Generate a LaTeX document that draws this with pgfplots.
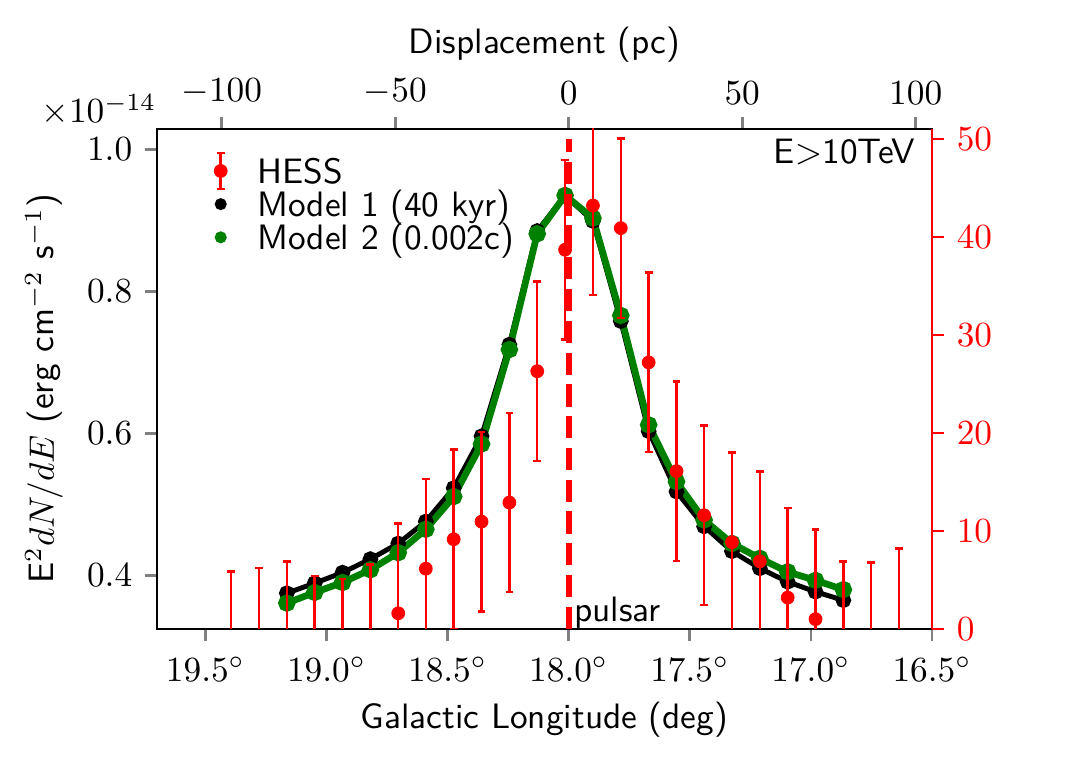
\documentclass[border=0pt]{standalone}
\usepackage{pgfplots}
\pgfplotsset{compat=1.18}
\definecolor{mplgreen}{rgb}{0,0.5,0}

\pgfplotsset{
  common/.style={
    scale only axis, width=219.55pt, height=141.64pt,
    major tick length=3.5pt,
    tick style={line width=0.8pt},
    axis line style={line width=0.8pt},
  },
}

\begin{document}
\begin{tikzpicture}
% models (left axis, units of 1e-14 erg cm^-2 s^-1)
\begin{axis}[common, name=main, tick align=outside,
  x dir=reverse, xmin=16.5, xmax=19.7,
  ymin=0.3246, ymax=1.0286,
  xtick={16.5,17,17.5,18,18.5,19,19.5},
  xticklabels={$16.5^\circ$,$17.0^\circ$,$17.5^\circ$,$18.0^\circ$,$18.5^\circ$,$19.0^\circ$,$19.5^\circ$},
  xticklabel style={yshift=-1pt},
  ytick={0.4,0.6,0.8,1.0},
  yticklabels={$0.4$,$0.6$,$0.8$,$1.0$},
  xtick pos=bottom, ytick pos=left,
  xlabel={\sffamily Galactic Longitude (deg)},
  ylabel={\sffamily E$^2dN/dE$ (erg cm$^{-2}$ s$^{-1}$)},
  xlabel style={at={(axis description cs:0.5,-0.181)}, anchor=center},
  ylabel style={at={(axis description cs:-0.146,0.48)}, anchor=center},
]
\addplot[black, line width=1.4pt, mark=*, mark size=1.5pt] coordinates {
  (19.164,0.375) (19.049,0.389) (18.934,0.404) (18.819,0.423) (18.704,0.445)
  (18.590,0.476) (18.475,0.523) (18.360,0.596) (18.245,0.725) (18.130,0.885)
  (18.015,0.935) (17.900,0.899) (17.785,0.758) (17.670,0.603) (17.555,0.518)
  (17.441,0.469) (17.326,0.434) (17.211,0.410) (17.096,0.391) (16.981,0.377)
  (16.866,0.365)
};
\addplot[mplgreen, line width=1.9pt, mark=*, mark size=1.5pt] coordinates {
  (19.164,0.361) (19.049,0.376) (18.934,0.390) (18.819,0.408) (18.704,0.432)
  (18.590,0.465) (18.475,0.511) (18.360,0.585) (18.245,0.718) (18.130,0.881)
  (18.015,0.935) (17.900,0.903) (17.785,0.766) (17.670,0.612) (17.555,0.532)
  (17.441,0.478) (17.326,0.445) (17.211,0.424) (17.096,0.405) (16.981,0.393)
  (16.866,0.380)
};
\node[anchor=base east, inner sep=0pt, font=\sffamily] at (rel axis cs:1,1) [xshift=-4.6pt, yshift=-9.9pt] {E$>$10TeV};
\end{axis}
\node[anchor=base east, inner sep=0pt] at (main.north west) [yshift=1.7pt] {$\times10^{-14}$};

% displacement axis (top)
\begin{axis}[common, at={(main.south west)}, anchor=south west,
  xmin=-118.68, xmax=104.72, ymin=0, ymax=1,
  axis x line=top, axis y line=none, tick align=outside,
  x axis line style={-},
  xtick={-100,-50,0,50,100},
  xlabel={\sffamily Displacement (pc)},
  xlabel style={at={(axis description cs:0.5,1.168)}, anchor=center},
]
\end{axis}

% HESS excess counts (right axis)
\begin{axis}[common, at={(main.south west)}, anchor=south west,
  x dir=reverse, xmin=16.5, xmax=19.7,
  ymin=0, ymax=51.02,
  axis y line=right, axis x line=none, tick align=outside,
  y axis line style={red, -},
  ytick={0,10,20,30,40,50},
  ytick style={red}, yticklabel style={red},
  legend cell align=left,
  legend style={at={(axis description cs:0,1)}, anchor=north west,
    xshift=12.85pt, yshift=-7.2pt, draw=none, fill=none,
    inner sep=0pt, outer sep=0pt, row sep=0pt, column sep=5.2pt,
    font=\sffamily,
    nodes={inner sep=0pt, text height=8.2pt, text depth=1.2pt}},
]
\addplot[red, only marks, mark=*, mark size=1.75pt,
  error bars/.cd, y dir=both, y explicit,
  error bar style={red, line width=0.7pt},
  error mark=-,
  error mark options={red, line width=0.7pt, mark size=1.1pt, rotate=90},
  /pgfplots/legend image code/.code={
    \draw[red, line width=0.7pt, overlay] (0pt,-5.1pt) -- (0pt,5.1pt)
      (-1.1pt,-5.1pt) -- (1.1pt,-5.1pt) (-1.1pt,5.1pt) -- (1.1pt,5.1pt);
    \fill[red] (0pt,0pt) circle (1.75pt);
    \path (-5pt,0pt) (5pt,0pt);
  }] coordinates {
  (19.394,-3.30) +- (0,9.15)
  (19.279,-2.95) +- (0,9.15)
  (19.164,-2.25) +- (0,9.15)
  (19.049,-3.75) +- (0,9.15)
  (18.934,-4.05) +- (0,9.15)
  (18.819,-2.55) +- (0,9.15)
  (18.704,1.60) +- (0,9.15)
  (18.590,6.15) +- (0,9.15)
  (18.475,9.15) +- (0,9.15)
  (18.360,10.95) +- (0,9.15)
  (18.245,12.90) +- (0,9.15)
  (18.130,26.30) +- (0,9.15)
  (18.015,38.70) +- (0,9.15)
  (17.900,43.20) +- (0,9.15)
  (17.785,40.90) +- (0,9.15)
  (17.670,27.20) +- (0,9.15)
  (17.555,16.10) +- (0,9.15)
  (17.441,11.60) +- (0,9.15)
  (17.326,8.85) +- (0,9.15)
  (17.211,6.90) +- (0,9.15)
  (17.096,3.20) +- (0,9.15)
  (16.981,1.00) +- (0,9.15)
  (16.866,-2.25) +- (0,9.15)
  (16.751,-2.35) +- (0,9.15)
  (16.636,-0.95) +- (0,9.15)
};
\addlegendentry{HESS}
\addplot[red, line width=1.7pt, dash pattern=on 6.3pt off 2.7pt, forget plot] coordinates {(18,0) (18,50)};
\addlegendimage{legend image code/.code={\fill[black] (0pt,0pt) circle (1.5pt); \path (-5pt,0pt) (5pt,0pt);}}
\addlegendentry{Model 1 (40 kyr)}
\addlegendimage{legend image code/.code={\fill[mplgreen] (0pt,0pt) circle (1.5pt); \path (-5pt,0pt) (5pt,0pt);}}
\addlegendentry{Model 2 (0.002c)}
\node[anchor=base west, inner sep=0pt, font=\sffamily] at (axis cs:18,0) [xshift=1.4pt, yshift=2pt] {pulsar};
\node[red, rotate=-90, anchor=center, font=\sffamily] at (axis description cs:1.1413,0.496) {Excess Counts};
\end{axis}

\pgfresetboundingbox
\path (main.south west) ++(-44.48pt,-39.09pt) rectangle ([shift={(44.19pt,36.54pt)}]main.north east);
\end{tikzpicture}
\end{document}
